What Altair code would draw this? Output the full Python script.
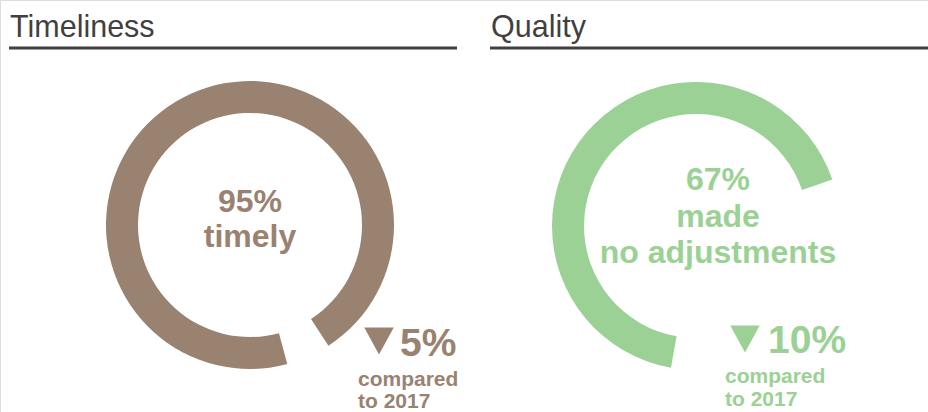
import math
import altair as alt
import pandas as pd

# ---- data ----
panel_titles = ["Timeliness", "Quality"]
percent_values = [95, 67]
center_lines = [["95%", "timely"], ["67%", "made", "no adjustments"]]
change_values = ["5%", "10%"]
change_note = ["compared", "to 2017"]
panel_colors = ["#9a8271", "#9bd194"]

# ---- styles / layout ----
TITLE_COLOR = "#433f3f"
FONT = "Liberation Sans"
W, H = 928, 412

title_x = [10, 491]
rule_x = [(9, 457), (490, 928)]
arc_center = [(250, 225), (696, 226)]
arc_start_deg = [165, 190]
center_x = [250, 718]
center_y = [[212, 247], [190, 227, 263]]
tri_pos = [(379, 341), (745, 339)]
change_pos = [(400, 356), (768, 353)]
note_pos = [(358, [386, 408]), (725, [383, 406])]

layers = []


def text_layer(txt, x, y, size, color, bold, align):
    df = pd.DataFrame({"t": [txt]})
    return alt.Chart(df).mark_text(
        font=FONT, fontSize=size, fontWeight="bold" if bold else "normal",
        color=color, align=align, baseline="alphabetic",
    ).encode(text="t:N", x=alt.value(x), y=alt.value(y))


for i in range(2):
    col = panel_colors[i]
    # title + underline
    layers.append(text_layer(panel_titles[i], title_x[i], 37, 30.5, TITLE_COLOR, False, "left"))
    layers.append(
        alt.Chart(pd.DataFrame({"t": [panel_titles[i]]})).mark_rule(
            color=TITLE_COLOR, strokeWidth=3
        ).encode(x=alt.value(rule_x[i][0]), x2=alt.value(rule_x[i][1]), y=alt.value(48))
    )
    # donut arc
    s = math.radians(arc_start_deg[i])
    df = pd.DataFrame({"start": [0], "end": [percent_values[i]]})
    layers.append(
        alt.Chart(df).mark_arc(outerRadius=144, innerRadius=112, color=col).encode(
            theta=alt.Theta("start:Q", scale=alt.Scale(domain=[0, 100], range=[s, s + 2 * math.pi])),
            theta2="end:Q",
            x=alt.value(arc_center[i][0]),
            y=alt.value(arc_center[i][1]),
        )
    )
    # center text
    for line, yy in zip(center_lines[i], center_y[i]):
        layers.append(text_layer(line, center_x[i], yy, 32, col, True, "center"))
    # change triangle
    layers.append(
        alt.Chart(pd.DataFrame({"t": [change_values[i]]})).mark_point(
            shape="M -1 -0.92 L 1 -0.92 L 0 0.92 Z", filled=True, opacity=1,
            size=870, color=col, strokeWidth=0,
        ).encode(x=alt.value(tri_pos[i][0]), y=alt.value(tri_pos[i][1]))
    )
    layers.append(text_layer(change_values[i], change_pos[i][0], change_pos[i][1], 39, col, True, "left"))
    for line, yy in zip(change_note, note_pos[i][1]):
        layers.append(text_layer(line, note_pos[i][0], yy, 21, col, True, "left"))

chart = (
    alt.layer(*layers)
    .resolve_scale(theta="independent")
    .properties(width=W, height=H, padding=0, autosize=alt.AutoSizeParams(type="none"))
    .configure_view(stroke=None)
    .configure(background="white")
)

chart.save("out.html", embed_options={"renderer": "svg", "actions": False})
